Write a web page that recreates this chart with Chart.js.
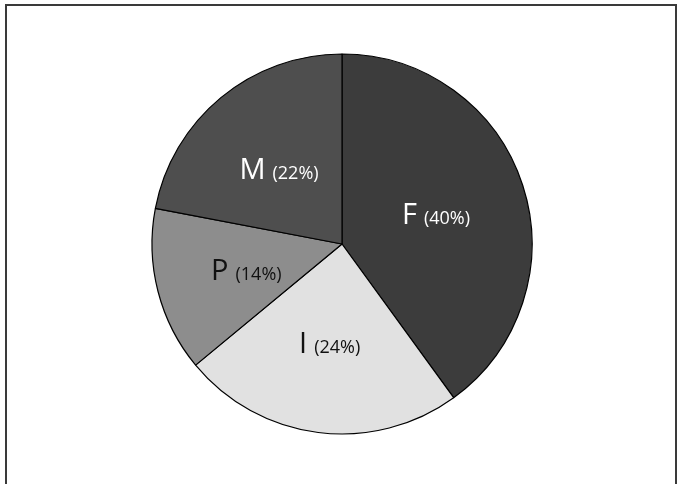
<!DOCTYPE html>
<html>
<head>
<meta charset="utf-8">
<script src="https://cdn.jsdelivr.net/npm/chart.js@4"></script>
<style>
  html, body { margin: 0; padding: 0; background: #fff; }
  #wrap { width: 682px; height: 484px; }
</style>
</head>
<body>
<div id="wrap"><canvas id="pie" width="682" height="484"></canvas></div>
<script>
// Slice categories and their shares (percent), clockwise from 12 o'clock
const categories = ['F', 'I', 'P', 'M'];
const shares = [40, 24, 14, 22];
const sliceColors = ['#3c3c3c', '#e1e1e1', '#8d8d8d', '#4e4e4e'];
const labelColors = ['#ffffff', '#111111', '#111111', '#ffffff'];

// Frame around the whole figure
const framePlugin = {
  id: 'frame',
  beforeDraw(chart) {
    const ctx = chart.ctx;
    ctx.save();
    ctx.fillStyle = '#ffffff';
    ctx.fillRect(0, 0, chart.width, chart.height);
    ctx.strokeStyle = '#3a3a3a';
    ctx.lineWidth = 2;
    ctx.strokeRect(6, 5, chart.width - 12, chart.height + 20);
    ctx.restore();
  }
};

// "F (40%)" style labels: big category letter followed by a smaller percentage
const sliceLabels = {
  id: 'sliceLabels',
  afterDatasetsDraw(chart) {
    const ctx = chart.ctx;
    const meta = chart.getDatasetMeta(0);
    const bigFont = '29px "Open Sans"';
    const smallFont = '18px "Open Sans"';
    meta.data.forEach((arc, i) => {
      const p = arc.getProps(['x', 'y', 'startAngle', 'endAngle', 'outerRadius'], true);
      const mid = (p.startAngle + p.endAngle) / 2;
      const r = p.outerRadius * 0.52;
      const cx = p.x + Math.cos(mid) * r;
      const cy = p.y + Math.sin(mid) * r;
      const big = categories[i];
      const small = '(' + shares[i] + '%)';
      const gap = 7;
      ctx.save();
      ctx.font = bigFont;
      const wBig = ctx.measureText(big).width;
      ctx.font = smallFont;
      const wSmall = ctx.measureText(small).width;
      const x0 = cx - (wBig + gap + wSmall) / 2;
      const base = cy + 11;
      ctx.fillStyle = labelColors[i];
      ctx.textBaseline = 'alphabetic';
      ctx.textAlign = 'left';
      ctx.font = bigFont;
      ctx.fillText(big, x0, base);
      ctx.font = smallFont;
      ctx.fillText(small, x0 + wBig + gap, base);
      ctx.restore();
    });
  }
};

new Chart(document.getElementById('pie'), {
  type: 'pie',
  data: {
    labels: categories,
    datasets: [{
      data: shares,
      backgroundColor: sliceColors,
      borderColor: '#000000',
      borderWidth: 1.2,
      hoverOffset: 0
    }]
  },
  options: {
    responsive: false,
    animation: false,
    radius: 190,
    layout: { padding: { top: 4, left: 2, right: 0, bottom: 0 } },
    plugins: {
      legend: { display: false },
      tooltip: { enabled: false }
    }
  },
  plugins: [framePlugin, sliceLabels]
});
</script>
</body>
</html>
